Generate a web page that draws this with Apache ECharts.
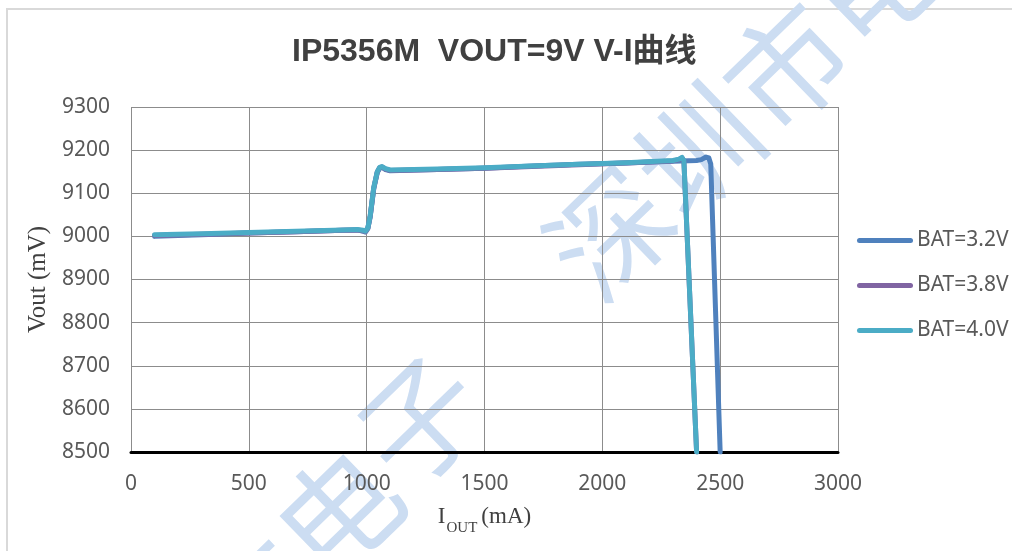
<!DOCTYPE html>
<html>
<head>
<meta charset="utf-8">
<script src="https://cdn.jsdelivr.net/npm/echarts@6/dist/echarts.min.js"></script>
<style>html,body{margin:0;padding:0;background:#fff;}#c{width:1012px;height:551px;}</style>
</head>
<body>
<div id="c"></div>
<script>
const titleText = 'IP5356M  VOUT=9V V-I曲线';
const seriesNames = ['BAT=3.2V', 'BAT=3.8V', 'BAT=4.0V'];
const xTicks = [0, 500, 1000, 1500, 2000, 2500, 3000];
const yTicks = [8500, 8600, 8700, 8800, 8900, 9000, 9100, 9200, 9300];

const iout32 = [100, 300, 500, 700, 900, 960, 985, 995, 1005, 1015, 1030, 1045, 1055, 1065, 1080, 1100, 1300, 1500, 1700, 1900, 2100, 2300, 2400, 2420, 2440, 2452, 2460, 2500];
const vout32 = [9000, 9004, 9008, 9011, 9014, 9015, 9012, 9010, 9018, 9045, 9110, 9148, 9158, 9160, 9155, 9152, 9155, 9158, 9163, 9167, 9170, 9174, 9176, 9178, 9184, 9182, 9168, 8500];

const iout38 = [100, 300, 500, 700, 900, 960, 985, 995, 1005, 1015, 1030, 1045, 1055, 1065, 1080, 1100, 1300, 1500, 1700, 1900, 2100, 2300, 2325, 2338, 2346, 2400];
const vout38 = [9002, 9005, 9008, 9011, 9014, 9015, 9013, 9011, 9019, 9047, 9112, 9149, 9159, 9161, 9156, 9153, 9155, 9158, 9162, 9166, 9170, 9175, 9178, 9182, 9175, 8500];

const iout40 = [100, 300, 500, 700, 900, 960, 985, 995, 1005, 1015, 1030, 1045, 1055, 1065, 1080, 1100, 1300, 1500, 1700, 1900, 2100, 2300, 2325, 2338, 2346, 2400];
const vout40 = [9004, 9006, 9009, 9012, 9015, 9016, 9014, 9012, 9020, 9048, 9113, 9150, 9160, 9162, 9157, 9154, 9156, 9159, 9163, 9167, 9171, 9176, 9179, 9183, 9176, 8500];

const colors = ['#4F81BD', '#8064A2', '#4BACC6'];

function pairs(xs, ys) { return xs.map((x, i) => [x, ys[i]]); }
const seriesData = [pairs(iout32, vout32), pairs(iout38, vout38), pairs(iout40, vout40)];

const wmFont = '"Noto Sans CJK SC", sans-serif';
const wmColor = '#CCDDF2';
const wmRot = 0.77;
const watermark = [
  ['深', 610, 233], ['圳', 698, 150], ['市', 787, 67], ['电', 876, -16],
  ['市', 256, 604], ['电', 338, 512], ['子', 420, 420]
].map(([t, x, y]) => ({
  type: 'text', x: x, y: y, rotation: wmRot, z: -10, silent: true,
  style: { text: t, font: '120px ' + wmFont, fill: wmColor, align: 'center', verticalAlign: 'middle' }
}));

const chart = echarts.init(document.getElementById('c'), null, { renderer: 'canvas' });
const labelFont = '"Noto Sans", sans-serif';
chart.setOption({
  backgroundColor: '#ffffff',
  animation: false,
  color: colors,
  title: {
    text: titleText, left: 292, top: 36, padding: 0,
    textStyle: { fontFamily: '"Liberation Sans", Arial, "Noto Sans CJK SC", sans-serif', fontWeight: 'bold', fontSize: 32, color: '#404040' }
  },
  graphic: [
    { type: 'rect', z: -20, silent: true, shape: { x: 7, y: 9, width: 1010, height: 550 }, style: { fill: 'none', stroke: '#D9D9D9', lineWidth: 2 } }
  ].concat(watermark),
  legend: {
    orient: 'vertical', left: 852, top: 225, itemWidth: 56, itemHeight: 5, itemGap: 24,
    icon: 'path://M2.5,0 L53.5,0 A2.5,2.5 0 0 1 53.5,5 L2.5,5 A2.5,2.5 0 0 1 2.5,0 Z',
    textStyle: { fontFamily: labelFont, fontSize: 21, color: '#595959', lineHeight: 21, padding: [0, 0, 0, -1] },
    data: seriesNames
  },
  grid: { left: 131, right: 174, top: 107, bottom: 99, containLabel: false },
  xAxis: {
    type: 'value', min: xTicks[0], max: xTicks[xTicks.length - 1], interval: 500,
    axisLine: { show: true, lineStyle: { color: '#000000', width: 3 } },
    axisTick: { show: false },
    splitLine: { show: true, lineStyle: { color: '#8C8C8C', width: 1 } },
    axisLabel: { margin: 22, fontFamily: labelFont, fontSize: 21, color: '#595959', formatter: v => String(v) },
    name: '{m|I}{s|OUT}{m|(mA)}', nameLocation: 'middle', nameGap: 46,
    nameTextStyle: {
      rich: {
        m: { fontFamily: '"Liberation Serif", serif', fontSize: 23, color: '#404040', lineHeight: 38, verticalAlign: 'middle' },
        s: { fontFamily: '"Liberation Serif", serif', fontSize: 15, color: '#404040', lineHeight: 38, verticalAlign: 'bottom', padding: [0, 4, 0, 1] }
      }
    }
  },
  yAxis: {
    type: 'value', min: yTicks[0], max: yTicks[yTicks.length - 1], interval: 100,
    axisLine: { show: false },
    axisTick: { show: false },
    splitLine: { show: true, lineStyle: { color: '#8C8C8C', width: 1 } },
    axisLabel: { margin: 21, fontFamily: labelFont, fontSize: 21, color: '#595959', formatter: v => String(v) },
    name: 'Vout (mV)', nameLocation: 'middle', nameGap: 80,
    nameTextStyle: { fontFamily: '"Liberation Serif", serif', fontSize: 25, color: '#404040' }
  },
  series: seriesNames.map((n, i) => ({
    name: n, type: 'line', data: seriesData[i], showSymbol: false, symbol: 'none',
    smooth: false, clip: true,
    lineStyle: { width: 5, color: colors[i], cap: 'round', join: 'round' },
    itemStyle: { color: colors[i] },
    z: 2 + i
  }))
});
</script>
</body>
</html>
